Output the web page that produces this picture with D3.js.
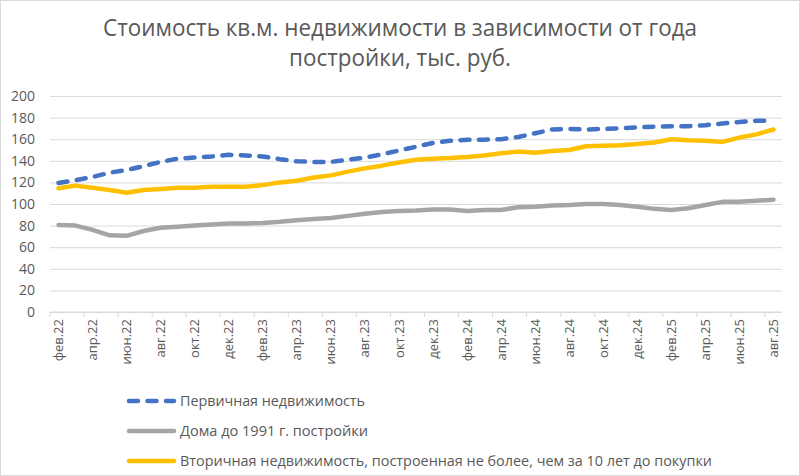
<!DOCTYPE html>
<html>
<head>
<meta charset="utf-8">
<script src="https://cdn.jsdelivr.net/npm/d3@7"></script>
<style>
body { margin: 0; background: #fff; }
text { font-family: "Open Sans", "Noto Sans", sans-serif; fill: #595959; }
</style>
</head>
<body>
<script>
// подписи месяцев (категории)
var months = ["фев.22","мар.22","апр.22","май.22","июн.22","июл.22","авг.22","сен.22","окт.22","ноя.22","дек.22",
    "янв.23","фев.23","мар.23","апр.23","май.23","июн.23","июл.23","авг.23","сен.23","окт.23","ноя.23","дек.23",
    "янв.24","фев.24","мар.24","апр.24","май.24","июн.24","июл.24","авг.24","сен.24","окт.24","ноя.24","дек.24",
    "янв.25","фев.25","мар.25","апр.25","май.25","июн.25","июл.25","авг.25"];

// Первичная недвижимость
var primary = [119.5,122,125,129,131.5,135,139,142,143,144,145.5,
    145,144,141.5,139.5,139,139,141,143,146,149.5,153,156.5,
    158.5,159.5,159.5,160,162,165.5,169,169.5,169,169.5,170,171,
    171.5,172,172,173,174.5,176,177,177];

// Дома до 1991 г. постройки
var oldHouses = [80.5,80,76,71,70.5,75,78,79,80,81,82,
    82,82.5,83.5,85,86,87,89,91,92.5,93.5,94,95,
    95,93.5,94.5,94.5,97,97.5,98.5,99,100,100,99,97.5,
    95.5,94.5,96,99,102,102,103,104];

// Вторичная недвижимость до 10 лет
var secondary = [114.5,117,115,113,110.5,113,114,115,115,116,116,
    116,117.5,120,121.5,124.5,126.5,130,133,135.5,138.5,141,142,
    142.5,143.5,145,147,148.5,147.5,149,150,153.5,154,154.5,155.5,
    157,160,159,158.5,157.5,161.5,164.5,169];

var yTicks = [0,20,40,60,80,100,120,140,160,180,200];

var seriesNames = ["Первичная недвижимость",
    "Дома до 1991 г. постройки",
    "Вторичная недвижимость, построенная не более, чем за 10 лет до покупки"];

//константы размещения
var W = 800, H = 476;
var plotLeft = 50, plotRight = 782, plotTop = 96, plotBottom = 312;

var svg = d3.select("body").append("svg")
    .attr("width", W)
    .attr("height", H);

// рамка диаграммы
svg.append("rect")
    .attr("x", 0.5).attr("y", 0.5)
    .attr("width", W-1).attr("height", H-1)
    .attr("fill", "#fff")
    .attr("stroke", "#d9d9d9");

// заголовок
svg.append("text")
    .attr("x", 400).attr("y", 36)
    .attr("text-anchor", "middle")
    .attr("font-size", 23)
    .attr("textLength", 594)
    .attr("lengthAdjust", "spacingAndGlyphs")
    .text("Стоимость кв.м. недвижимости в зависимости от года");
svg.append("text")
    .attr("x", 400).attr("y", 66)
    .attr("text-anchor", "middle")
    .attr("font-size", 23)
    .attr("textLength", 222)
    .attr("lengthAdjust", "spacingAndGlyphs")
    .text("постройки, тыс. руб.");

var x = d3.scaleBand().domain(months).range([plotLeft, plotRight]).padding(0);
var y = d3.scaleLinear().domain([0, 200]).range([plotBottom, plotTop]);

// сетка и подписи оси Y
var yAxis = d3.axisLeft(y).tickValues(yTicks).tickSize(-(plotRight-plotLeft)).tickPadding(15);
var gy = svg.append("g")
    .attr("transform", "translate(" + plotLeft + ",0)")
    .call(yAxis);
gy.select(".domain").remove();
gy.selectAll(".tick line").attr("stroke", "#d9d9d9").attr("stroke-width", 1);
gy.selectAll(".tick text").attr("font-size", 14).attr("fill", "#595959").style("font-family", "Open Sans");

// ось X: засечки на границах категорий, подписи через месяц
var gx = svg.append("g").attr("class", "xaxis");
gx.append("line")
    .attr("x1", plotLeft).attr("x2", plotRight)
    .attr("y1", plotBottom).attr("y2", plotBottom)
    .attr("stroke", "#d9d9d9");

var shown = months.filter(function(d, i) { return i % 2 == 0; });
gx.selectAll("line.tk").data(shown).enter().append("line")
    .attr("class", "tk")
    .attr("x1", function(d) { return x(d); })
    .attr("x2", function(d) { return x(d); })
    .attr("y1", plotBottom).attr("y2", plotBottom + 5)
    .attr("stroke", "#d9d9d9");

gx.selectAll("text").data(shown).enter().append("text")
    .attr("transform", function(d) {
        return "translate(" + (x(d) + x.bandwidth()/2) + "," + (plotBottom + 7) + ") rotate(-90)";
    })
    .attr("text-anchor", "end")
    .attr("dy", "0.35em")
    .attr("font-size", 13)
    .text(function(d) { return d; });

// линии рядов
var line = d3.line()
    .x(function(d, i) { return x(months[i]) + x.bandwidth()/2; })
    .y(function(d) { return y(d); });

var series = [
    {values: primary, color: "#4472c4", dash: "9 9.5"},
    {values: oldHouses, color: "#a5a5a5", dash: null},
    {values: secondary, color: "#ffc000", dash: null}
];

series.forEach(function(s) {
    svg.append("path")
        .attr("d", line(s.values))
        .attr("fill", "none")
        .attr("stroke", s.color)
        .attr("stroke-width", 4.5)
        .attr("stroke-linejoin", "round")
        .attr("stroke-linecap", "round")
        .attr("stroke-dasharray", s.dash);
});

// легенда
var legendY = [401, 431, 461];
var legendLen = [185, 188, 532];
series.forEach(function(s, i) {
    svg.append("line")
        .attr("x1", 129).attr("x2", 174)
        .attr("y1", legendY[i]).attr("y2", legendY[i])
        .attr("stroke", s.color)
        .attr("stroke-width", 4.5)
        .attr("stroke-linecap", "round")
        .attr("stroke-dasharray", s.dash);
    svg.append("text")
        .attr("x", 180).attr("y", legendY[i])
        .attr("dy", "0.35em")
        .attr("font-size", 14.5)
        .attr("textLength", legendLen[i])
        .attr("lengthAdjust", "spacingAndGlyphs")
        .attr("fill", "#404040")
        .text(seriesNames[i]);
});
</script>
</body>
</html>
